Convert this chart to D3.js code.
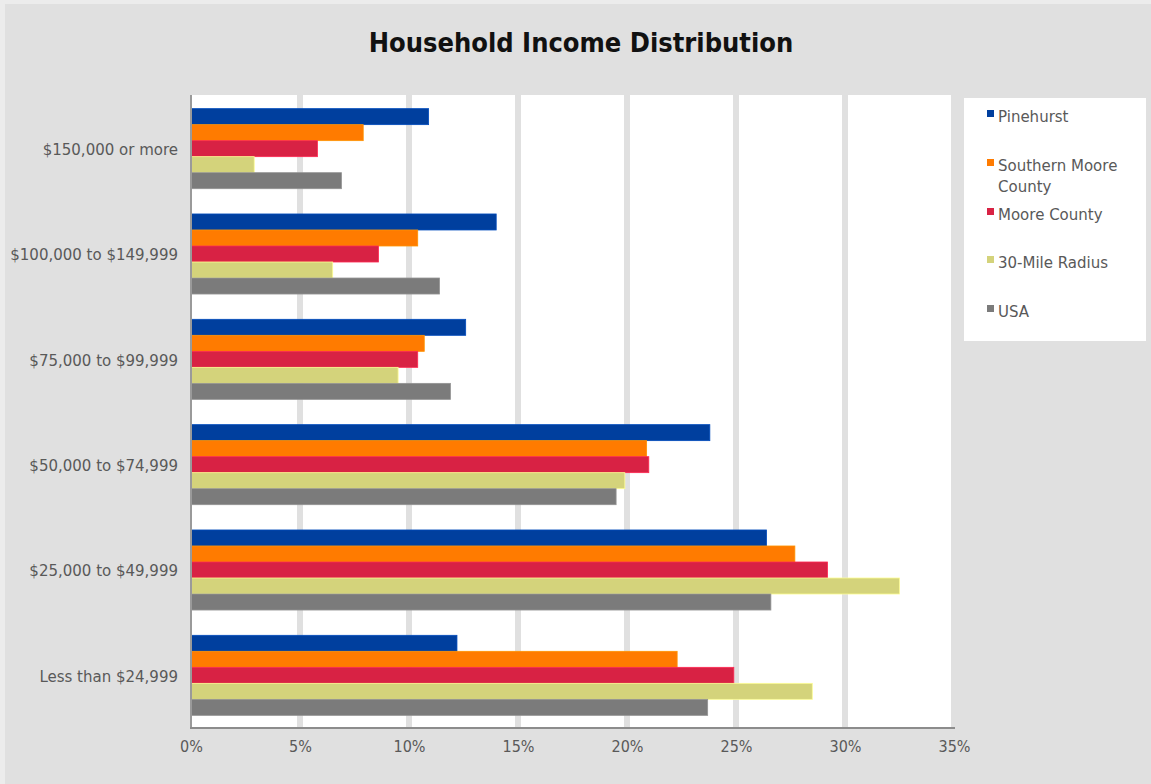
<!DOCTYPE html>
<html>
<head>
<meta charset="utf-8">
<script src="https://cdn.jsdelivr.net/npm/d3@7"></script>
<style>
  html, body { margin: 0; padding: 0; background: #e0e0e0; }
  svg { display: block; }
</style>
</head>
<body>
<svg id="chart" width="1151" height="784"></svg>
<script>
// Income brackets, top to bottom
const categories = [
  "$150,000 or more",
  "$100,000 to $149,999",
  "$75,000 to $99,999",
  "$50,000 to $74,999",
  "$25,000 to $49,999",
  "Less than $24,999"
];

// Share of households (%) per bracket for each geography
const seriesNames = ["Pinehurst", "Southern Moore County", "Moore County", "30-Mile Radius", "USA"];
const pinehurst   = [10.9, 14.0, 12.6, 23.8, 26.4, 12.2];
const southMoore  = [7.9, 10.4, 10.7, 20.9, 27.7, 22.3];
const mooreCounty = [5.8, 8.6, 10.4, 21.0, 29.2, 24.9];
const mileRadius  = [2.9, 6.5, 9.5, 19.9, 32.5, 28.5];
const usa         = [6.9, 11.4, 11.9, 19.5, 26.6, 23.7];
const seriesColors = ["#003f9e", "#ff7b00", "#d82244", "#d4d37b", "#7b7b7b"];
const xTicks = [0, 5, 10, 15, 20, 25, 30, 35];

const seriesValues = [pinehurst, southMoore, mooreCounty, mileRadius, usa];

const svg = d3.select("#chart");
const W = 1151, H = 784;

// backdrop with a lighter outer edge
svg.append("rect").attr("width", W).attr("height", H).attr("fill", "#ececec");
svg.append("rect").attr("x", 5).attr("y", 4).attr("width", W - 5).attr("height", H - 4).attr("fill", "#e0e0e0");

// title
svg.append("text")
  .attr("x", 581).attr("y", 52)
  .attr("text-anchor", "middle")
  .attr("font-family", "'DejaVu Sans Condensed', 'DejaVu Sans', sans-serif")
  .attr("font-weight", "bold")
  .attr("font-size", 27)
  .attr("fill", "#111")
  .text("Household Income Distribution");

const plot = { left: 191, right: 954, top: 95, bottom: 727 };

const x = d3.scaleLinear().domain([0, 35]).range([plot.left, plot.right]);
const y = d3.scaleBand().domain(categories).range([plot.top, plot.bottom])
  .paddingInner(0.24).paddingOuter(0.12);
const ySub = d3.scaleBand().domain(seriesNames).range([0, y.bandwidth()]).padding(0);

// plot background
svg.append("rect")
  .attr("x", plot.left).attr("y", plot.top)
  .attr("width", plot.right - plot.left).attr("height", plot.bottom - plot.top)
  .attr("fill", "#ffffff");

// vertical gridlines (wide bands in background grey)
svg.append("g")
  .selectAll("line")
  .data(xTicks.slice(1))
  .join("line")
  .attr("x1", d => x(d)).attr("x2", d => x(d))
  .attr("y1", plot.top).attr("y2", plot.bottom)
  .attr("stroke", "#e0e0e0")
  .attr("stroke-width", 6);

// bars
const groups = svg.append("g")
  .selectAll("g")
  .data(categories)
  .join("g")
  .attr("transform", d => `translate(0,${y(d) + 1})`);

groups.selectAll("rect")
  .data((cat, i) => seriesNames.map((s, j) => ({ s, j, v: seriesValues[j][i] })))
  .join("rect")
  .attr("x", x(0))
  .attr("y", d => ySub(d.s))
  .attr("width", d => x(d.v) - x(0))
  .attr("height", ySub.bandwidth())
  .attr("fill", d => seriesColors[d.j])
  .attr("stroke", d => d3.color(seriesColors[d.j]).brighter(0.5).formatHex())
  .attr("stroke-width", 0.8);

// y axis labels
const yAxis = d3.axisLeft(y).tickSize(0).tickPadding(13);
const yg = svg.append("g").attr("transform", `translate(${plot.left},0)`).call(yAxis);
yg.select(".domain").remove();
yg.selectAll("text")
  .attr("dy", "0.48em")
  .attr("font-family", "'DejaVu Sans', sans-serif")
  .attr("font-size", 15)
  .attr("fill", "#595959");

// x axis labels
const xAxis = d3.axisBottom(x).tickValues(xTicks).tickFormat(d => d + "%").tickSize(0).tickPadding(14);
const xg = svg.append("g").attr("transform", `translate(0,${plot.bottom})`).call(xAxis);
xg.select(".domain").remove();
xg.selectAll("text")
  .attr("font-family", "'DejaVu Sans Condensed', 'DejaVu Sans', sans-serif")
  .attr("font-size", 16)
  .attr("fill", "#595959");

// axis lines
svg.append("line")
  .attr("x1", plot.left).attr("x2", plot.left)
  .attr("y1", plot.top).attr("y2", plot.bottom + 1)
  .attr("stroke", "#9a9a9a").attr("stroke-width", 2);
svg.append("line")
  .attr("x1", plot.left - 1).attr("x2", plot.right + 1)
  .attr("y1", plot.bottom + 1).attr("y2", plot.bottom + 1)
  .attr("stroke", "#8c8c8c").attr("stroke-width", 2);

// legend
const legend = svg.append("g");
legend.append("rect")
  .attr("x", 964).attr("y", 98).attr("width", 182).attr("height", 243)
  .attr("fill", "#ffffff");

const legendRows = [
  ["Pinehurst"],
  ["Southern Moore", "County"],
  ["Moore County"],
  ["30-Mile Radius"],
  ["USA"]
];
const legendY = [117, 166, 215, 263, 312];

const items = legend.selectAll("g.item")
  .data(legendRows)
  .join("g")
  .attr("class", "item")
  .attr("transform", (d, i) => `translate(0,${legendY[i]})`);

items.append("rect")
  .attr("x", 987).attr("y", -7).attr("width", 7).attr("height", 7)
  .attr("fill", (d, i) => seriesColors[i]);

items.append("text")
  .attr("x", 998).attr("y", 5)
  .attr("font-family", "'DejaVu Sans', sans-serif")
  .attr("font-size", 15)
  .attr("fill", "#595959")
  .selectAll("tspan")
  .data(d => d)
  .join("tspan")
  .attr("x", 998)
  .attr("dy", (d, k) => k === 0 ? 0 : 21)
  .text(d => d);
</script>
</body>
</html>
